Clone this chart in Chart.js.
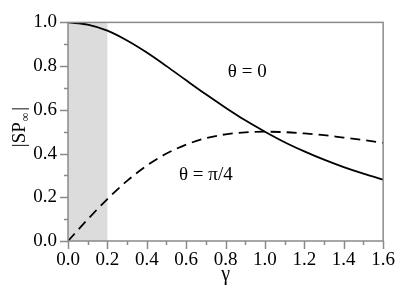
<!DOCTYPE html>
<html>
<head>
<meta charset="utf-8">
<script src="https://cdn.jsdelivr.net/npm/chart.js@4"></script>
<style>
  html, body { margin: 0; padding: 0; background: #fff; }
  #wrap { width: 403px; height: 295px; }
</style>
</head>
<body>
<div id="wrap"><canvas id="c"></canvas></div>
<script>
// values
const gamma = [0, 0.1, 0.2, 0.3, 0.4, 0.5, 0.6, 0.7, 0.8, 0.9, 1.0, 1.1, 1.2, 1.3, 1.4, 1.5, 1.6];
const theta0 = [1.0, 0.990, 0.962, 0.917, 0.862, 0.800, 0.735, 0.671, 0.610, 0.552, 0.500, 0.452, 0.410, 0.372, 0.338, 0.308, 0.281];
const thetaPi4 = [0.0, 0.099, 0.192, 0.275, 0.345, 0.400, 0.441, 0.470, 0.488, 0.497, 0.500, 0.498, 0.492, 0.484, 0.473, 0.462, 0.449];
const shadeRange = [0, 0.2];
const annotations = [
  { text: "θ = 0", x: 0.91, y: 0.775 },
  { text: "θ = π/4", x: 0.70, y: 0.30 }
];

const AXIS = "#8a8a8a";
const FONT = "'Liberation Serif', 'DejaVu Serif', serif";

const toPts = (ys) => gamma.map((g, i) => ({ x: g, y: ys[i] }));

const decor = {
  id: "decor",
  beforeDatasetsDraw(chart) {
    const { ctx, chartArea: a, scales: { x } } = chart;
    ctx.save();
    ctx.fillStyle = "#dcdcdc";
    const x0 = x.getPixelForValue(shadeRange[0]), x1 = x.getPixelForValue(shadeRange[1]);
    ctx.fillRect(x0, a.top, x1 - x0, a.bottom - a.top);
    ctx.restore();
  },
  afterDraw(chart) {
    const { ctx, chartArea: a, scales: { x, y } } = chart;
    ctx.save();
    ctx.strokeStyle = AXIS;
    ctx.lineWidth = 1.5;
    ctx.strokeRect(a.left, a.top, a.right - a.left, a.bottom - a.top);
    ctx.beginPath();
    for (let i = 0; i <= 16; i++) {
      const px = Math.round(x.getPixelForValue(i / 10)) + 0.5;
      const len = i % 2 === 0 ? 8 : 4;
      ctx.moveTo(px, a.bottom);
      ctx.lineTo(px, a.bottom + len);
    }
    for (let i = 0; i <= 10; i++) {
      const py = Math.round(y.getPixelForValue(i / 10)) + 0.5;
      const len = i % 2 === 0 ? 8 : 4;
      ctx.moveTo(a.left, py);
      ctx.lineTo(a.left - len, py);
    }
    ctx.stroke();

    ctx.fillStyle = "#000";
    ctx.textAlign = "center";
    ctx.textBaseline = "middle";
    ctx.font = "19px " + FONT;
    annotations.forEach((t) => {
      ctx.fillText(t.text, x.getPixelForValue(t.x), y.getPixelForValue(t.y));
    });

    // x title
    ctx.font = "20px " + FONT;
    ctx.fillText("γ", (a.left + a.right) / 2, 275);

    // y title |SP∞| rotated
    ctx.translate(18, 127);
    ctx.rotate(-Math.PI / 2);
    ctx.textAlign = "left";
    ctx.textBaseline = "alphabetic";
    ctx.font = "19px " + FONT;
    const w1 = ctx.measureText("|SP").width;
    ctx.font = "12px " + FONT;
    const w2 = ctx.measureText("∞").width;
    ctx.font = "19px " + FONT;
    const w3 = ctx.measureText("|").width;
    const start = -(w1 + w2 + 3 + w3) / 2;
    ctx.fillText("|SP", start, 7);
    ctx.font = "12px " + FONT;
    ctx.fillText("∞", start + w1 + 1, 11);
    ctx.font = "19px " + FONT;
    ctx.fillText("|", start + w1 + w2 + 3, 7);
    ctx.restore();
  }
};

new Chart(document.getElementById("c"), {
  type: "line",
  data: {
    datasets: [
      {
        label: "θ = 0",
        data: toPts(theta0),
        borderColor: "#000",
        borderWidth: 1.8,
        pointRadius: 0,
        cubicInterpolationMode: "monotone",
        fill: false
      },
      {
        label: "θ = π/4",
        data: toPts(thetaPi4),
        borderColor: "#000",
        borderWidth: 1.8,
        borderDash: [10, 6],
        pointRadius: 0,
        cubicInterpolationMode: "monotone",
        fill: false
      }
    ]
  },
  options: {
    responsive: true,
    maintainAspectRatio: false,
    animation: false,
    layout: { padding: { left: 0, right: 18, top: 15, bottom: 0 } },
    plugins: { legend: { display: false }, tooltip: { enabled: false } },
    scales: {
      x: {
        type: "linear",
        min: 0, max: 1.6,
        grid: { display: false, drawTicks: false },
        border: { display: false },
        ticks: {
          stepSize: 0.2,
          padding: 8,
          color: "#000",
          font: { family: FONT, size: 19 },
          callback: (v) => v.toFixed(1)
        },
        afterFit: (s) => { s.height = 54; }
      },
      y: {
        type: "linear",
        min: 0, max: 1.0,
        grid: { display: false, drawTicks: false },
        border: { display: false },
        ticks: {
          stepSize: 0.2,
          padding: 11,
          color: "#000",
          font: { family: FONT, size: 19 },
          callback: (v) => v.toFixed(1)
        },
        afterFit: (s) => { s.width = 68; }
      }
    }
  },
  plugins: [decor]
});
</script>
</body>
</html>
